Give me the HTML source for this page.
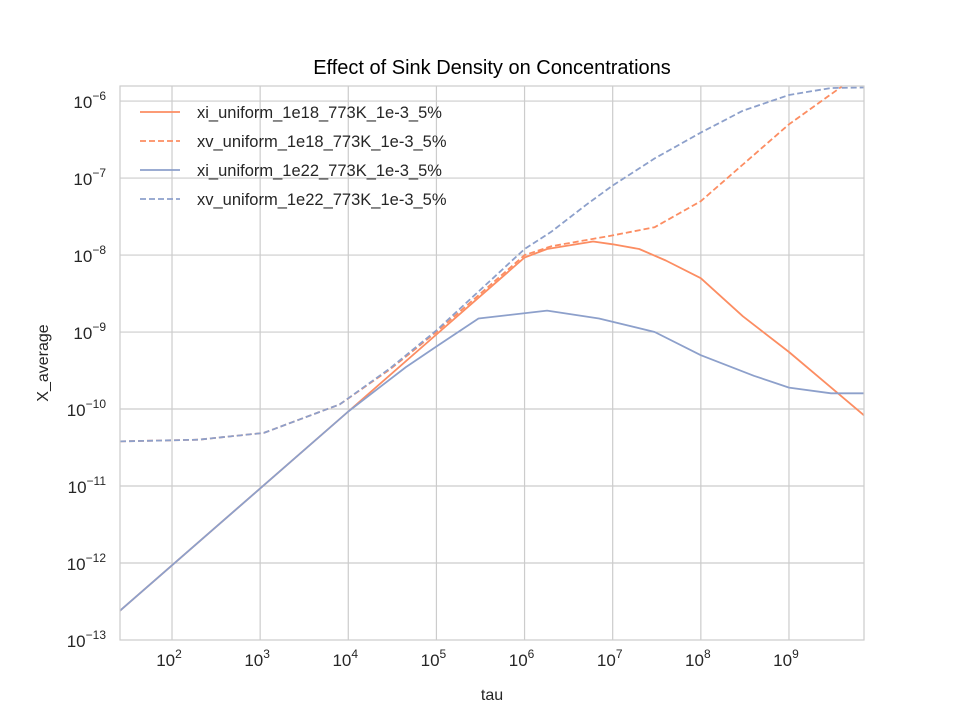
<!DOCTYPE html>
<html><head><meta charset="utf-8"><style>body{margin:0;background:#fff}svg{display:block;font-family:"Liberation Sans",sans-serif}</style></head>
<body>
<svg id="chart" width="960" height="720">
<text x="492" y="74" font-size="20" text-anchor="middle" fill="#000">Effect of Sink Density on Concentrations</text>
<text x="492" y="700" font-size="16" text-anchor="middle" fill="#262626">tau</text>
<text transform="translate(48,363) rotate(-90)" font-size="16" text-anchor="middle" fill="#262626">X_average</text>
<g id="grid"></g><g id="series"></g><g id="legend"></g>
<rect x="120" y="86" width="744" height="554" fill="none" stroke="#ccc" stroke-width="1.2"/>
</svg>
<script>
const xTickExps=[2,3,4,5,6,7,8,9];
const yTickExps=[-13,-12,-11,-10,-9,-8,-7,-6];
const seriesNames=["xi_uniform_1e18_773K_1e-3_5%","xv_uniform_1e18_773K_1e-3_5%","xi_uniform_1e22_773K_1e-3_5%","xv_uniform_1e22_773K_1e-3_5%"];
const xiA_x=[25.7,1e4,1e5,1e6,1.8e6,6e6,1e7,2e7,4e7,1e8,3e8,1e9,7.1e9];
const xiA_y=[2.4e-13,9.3e-11,9.3e-10,9.3e-9,1.2e-8,1.5e-8,1.38e-8,1.2e-8,8.5e-9,5e-9,1.6e-9,5.5e-10,8.3e-11];
const xvA_x=[25.7,200,1.1e3,8e3,3e4,1e5,1e6,2e6,1e7,3e7,1e8,3e8,1e9,4e9];
const xvA_y=[3.8e-11,4e-11,4.9e-11,1.15e-10,3.3e-10,1e-9,1e-8,1.3e-8,1.8e-8,2.3e-8,5e-8,1.5e-7,5e-7,1.55e-6];
const xiB_x=[25.7,1e4,4.5e4,1e5,3e5,1.8e6,7e6,3e7,1e8,4e8,1e9,3e9,7.1e9];
const xiB_y=[2.4e-13,9.3e-11,3.5e-10,6.5e-10,1.5e-9,1.9e-9,1.5e-9,1e-9,5e-10,2.7e-10,1.9e-10,1.6e-10,1.6e-10];
const xvB_x=[25.7,200,1.1e3,8e3,3e4,1e5,1e6,2e6,5e6,1e7,3e7,1e8,3e8,1e9,3e9,7.1e9];
const xvB_y=[3.8e-11,4e-11,4.9e-11,1.15e-10,3.4e-10,1.05e-9,1.2e-8,2e-8,4.5e-8,8e-8,1.8e-7,3.9e-7,7.5e-7,1.2e-6,1.48e-6,1.5e-6];
const L=120,R=864,T=86,B=640,xmin=Math.log10(25.7),xmax=Math.log10(7.1e9),ymin=-13,ymax=Math.log10(1.57e-6);
const sx=v=>L+(Math.log10(v)-xmin)/(xmax-xmin)*(R-L);
const sy=v=>B-(Math.log10(v)-ymin)/(ymax-ymin)*(B-T);
const NS="http://www.w3.org/2000/svg";
const mk=(t,a,p)=>{const e=document.createElementNS(NS,t);for(const k in a)e.setAttribute(k,a[k]);p.appendChild(e);return e;};
const g=document.getElementById('grid');
xTickExps.forEach(e=>{const x=sx(Math.pow(10,e));
 const l=mk('line',{x1:x,x2:x,y1:T,y2:B,stroke:'#ccc','stroke-width':1.2},g);
 
 
 const t=mk('text',{x:x-3,y:B+26,'font-size':17,'text-anchor':'middle',fill:'#262626'},g);
 
 
 t.textContent='10';const s=mk('tspan',{dy:-8,'font-size':12},t);s.textContent=e;});
yTickExps.forEach(e=>{const y=sy(Math.pow(10,e));
 if(e>-13){const l=mk('line',{x1:L,x2:R,y1:y,y2:y,stroke:'#ccc','stroke-width':1.2},g);
 
 }
 const t=mk('text',{x:106,y:y+7,'font-size':17,'text-anchor':'end',fill:'#262626'},g);
 
 
 t.textContent='10';const s=mk('tspan',{dy:-8,'font-size':12},t);s.textContent='\u2212'+(-e);});
const sg=document.getElementById('series');
const defs=[[xiA_x,xiA_y,'#fc8d62',''],[xvA_x,xvA_y,'#fc8d62','6,3'],[xiB_x,xiB_y,'#8da0cb',''],[xvB_x,xvB_y,'#8da0cb','6,3']];
defs.forEach((d,i)=>{const pts=d[0].map((x,j)=>sx(x).toFixed(1)+','+sy(d[1][j]).toFixed(1)).join(' ');
 const p=mk('polyline',{points:pts,fill:'none',stroke:d[2],'stroke-width':1.8,'stroke-dasharray':d[3],'stroke-linejoin':'round'},sg);
 
 });
const lg=document.getElementById('legend');
defs.forEach((d,i)=>{const y=112+i*29;
 const l=mk('line',{x1:140,x2:180,y1:y,y2:y,stroke:d[2],'stroke-width':1.8,'stroke-dasharray':d[3]},lg);
 
 
 const t=mk('text',{x:197,y:y+6,'font-size':16.5,fill:'#262626'},lg);
 
 
 t.textContent=seriesNames[i];});
</script>
</body></html>
